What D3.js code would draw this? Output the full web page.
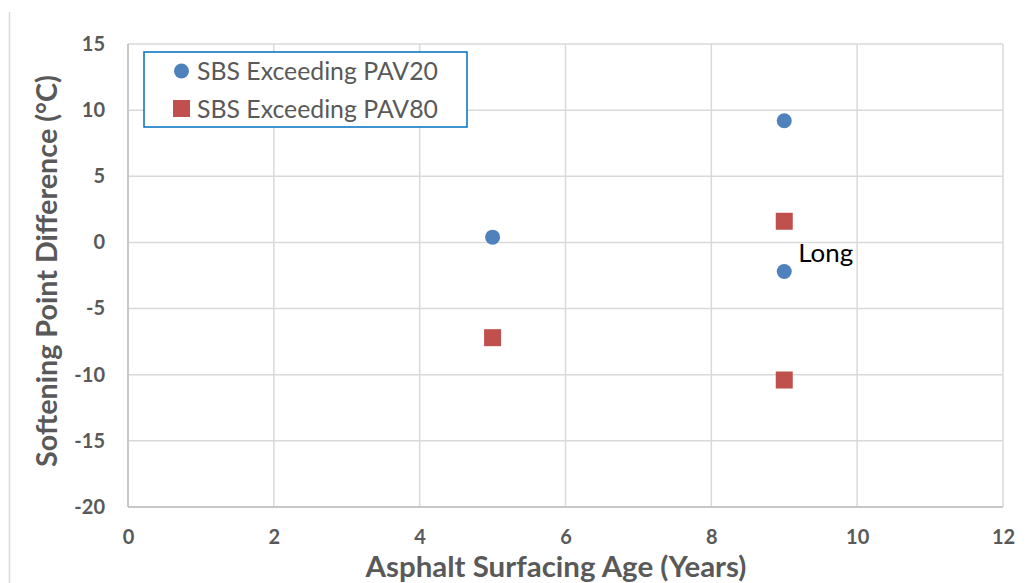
<!DOCTYPE html>
<html><head><meta charset="utf-8">
<script src="https://cdn.jsdelivr.net/npm/d3@7"></script>
<style>body{margin:0;background:#fff;} svg{display:block;}</style>
</head><body>
<svg id="chart" width="1029" height="583"></svg>
<script>
const xTicks = [0, 2, 4, 6, 8, 10, 12];
const yTicks = [-20, -15, -10, -5, 0, 5, 10, 15];
const pav20X = [5, 9, 9];
const pav20Y = [0.4, 9.2, -2.2];
const pav80X = [5, 9, 9];
const pav80Y = [-7.2, 1.6, -10.4];
const seriesNames = ["SBS Exceeding PAV20", "SBS Exceeding PAV80"];
const annotation = {text: "Long", x: 9, y: -2.2};

const svg = d3.select("#chart");
const font = "Lato, 'Open Sans', sans-serif";
const gray = "#595959";
const L = 128, R = 1003, T = 44, B = 507;
const x = d3.scaleLinear().domain([0, 12]).range([L, R]);
const y = d3.scaleLinear().domain([-20, 15]).range([B, T]);

function fit(sel, w) {
  sel.each(function() {
    const el = this;
    const fs = parseFloat(el.getAttribute("font-size"));
    const cur = el.getComputedTextLength();
    if (cur > 0) el.setAttribute("font-size", (fs * w / cur).toFixed(2));
  });
}

svg.append("line").attr("x1", 9.5).attr("x2", 9.5).attr("y1", 12).attr("y2", 583)
  .attr("stroke", "#d9d9d9").attr("stroke-width", 1.5);

svg.append("g").selectAll("line").data(yTicks).join("line")
  .attr("x1", L).attr("x2", R).attr("y1", d => y(d)).attr("y2", d => y(d))
  .attr("stroke", "#d9d9d9").attr("stroke-width", 1.5);
svg.append("g").selectAll("line").data(xTicks).join("line")
  .attr("y1", T).attr("y2", B).attr("x1", d => x(d)).attr("x2", d => x(d))
  .attr("stroke", "#d9d9d9").attr("stroke-width", 1.5);
svg.append("line").attr("x1", L).attr("x2", R).attr("y1", B).attr("y2", B).attr("stroke", "#bfbfbf").attr("stroke-width", 1.5);
svg.append("line").attr("x1", L).attr("x2", L).attr("y1", T).attr("y2", B).attr("stroke", "#bfbfbf").attr("stroke-width", 1.5);

const xAxis = svg.append("g").attr("transform", `translate(0,${B})`)
  .call(d3.axisBottom(x).tickValues(xTicks).tickFormat(d => String(d)).tickSize(0).tickPadding(23));
const yAxis = svg.append("g").attr("transform", `translate(${L},0)`)
  .call(d3.axisLeft(y).tickValues(yTicks).tickFormat(d => String(d)).tickSize(0).tickPadding(23));
[xAxis, yAxis].forEach(g => {
  g.select(".domain").remove();
  g.selectAll("text").attr("font-family", font).attr("font-size", 20)
    .attr("font-weight", "bold").attr("fill", gray);
});

const xt = svg.append("text").attr("x", 556).attr("y", 577).attr("text-anchor", "middle")
  .attr("font-family", font).attr("font-size", 25).attr("font-weight", "bold").attr("fill", gray)
  .text("Asphalt Surfacing Age (Years)");
fit(xt, 381);
const yt = svg.append("text").attr("transform", `translate(57,271) rotate(-90)`).attr("text-anchor", "middle")
  .attr("font-family", font).attr("font-size", 23).attr("font-weight", "bold").attr("fill", gray)
  .text("Softening Point Difference (°C)");
fit(yt, 392);

const blue = "#4F81BD", red = "#C0504D";
svg.append("g").selectAll("circle").data(pav20X.map((d, i) => [d, pav20Y[i]])).join("circle")
  .attr("cx", d => x(d[0])).attr("cy", d => y(d[1])).attr("r", 7.5).attr("fill", blue);
const s = 17;
svg.append("g").selectAll("rect").data(pav80X.map((d, i) => [d, pav80Y[i]])).join("rect")
  .attr("x", d => x(d[0]) - s / 2).attr("y", d => y(d[1]) - s / 2).attr("width", s).attr("height", s).attr("fill", red);

const an = svg.append("text").attr("x", x(annotation.x) + 14).attr("y", y(annotation.y) - 10)
  .attr("font-family", font).attr("font-size", 22).attr("fill", "#000").text(annotation.text);
fit(an, 55);

const lg = svg.append("g");
lg.append("rect").attr("x", 144).attr("y", 52).attr("width", 323).attr("height", 75)
  .attr("fill", "#fff").attr("stroke", "#0070C0").attr("stroke-width", 1.5);
lg.append("circle").attr("cx", 181.5).attr("cy", 71).attr("r", 7.5).attr("fill", blue);
lg.append("rect").attr("x", 173).attr("y", 100).attr("width", 17).attr("height", 17).attr("fill", red);
const lt = lg.selectAll("text.l").data(seriesNames).join("text").attr("class", "l")
  .attr("x", 197).attr("y", (d, i) => 80 + i * 38)
  .attr("font-family", font).attr("font-size", 21).attr("fill", gray).text(d => d);
fit(lt, 241);
</script>
</body></html>
